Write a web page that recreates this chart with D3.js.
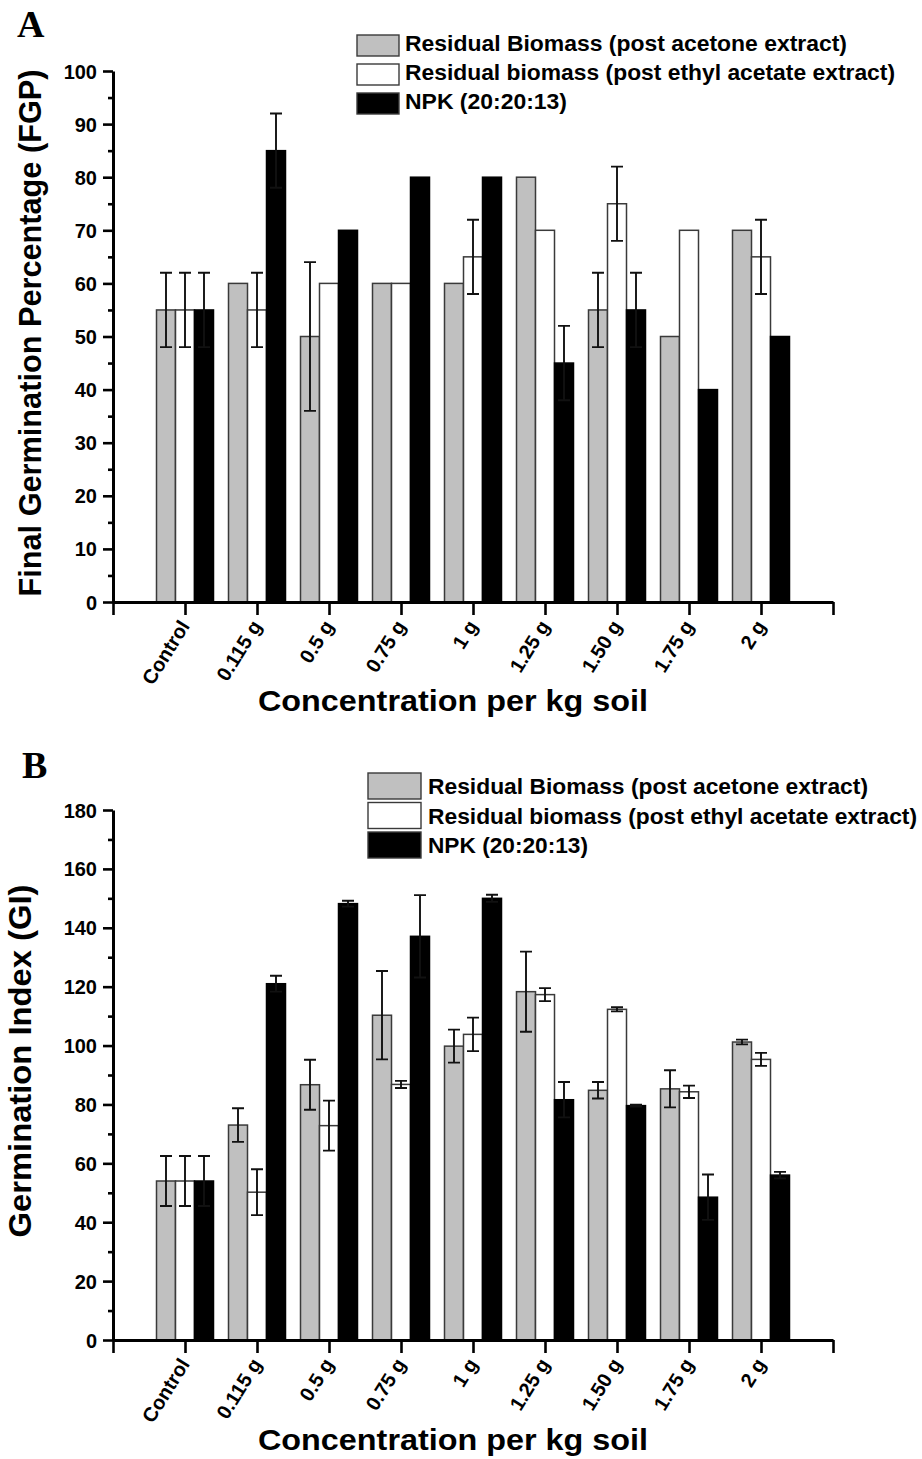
<!DOCTYPE html>
<html>
<head>
<meta charset="utf-8">
<script src="https://cdn.jsdelivr.net/npm/d3@7"></script>
<style>
  html, body { margin: 0; padding: 0; background: #fff; }
  svg { display: block; }
  text { font-family: "Liberation Sans", Arial, sans-serif; font-weight: bold; fill: #000; }
</style>
</head>
<body>
<svg id="fig" width="922" height="1459"></svg>
<script>
// Treatments (concentration per kg soil)
const categories = ["Control", "0.115 g", "0.5 g", "0.75 g", "1 g", "1.25 g", "1.50 g", "1.75 g", "2 g"];

const seriesNames = [
  "Residual Biomass (post acetone extract)",
  "Residual biomass (post ethyl acetate extract)",
  "NPK (20:20:13)"
];

// Panel A: final germination percentage (FGP) with error
const fgpAcetone    = [55, 60, 50, 60, 60, 80, 55, 50, 70];
const fgpAcetoneErr = [7, 0, 14, 0, 0, 0, 7, 0, 0];
const fgpEthyl      = [55, 55, 60, 60, 65, 70, 75, 70, 65];
const fgpEthylErr   = [7, 7, 0, 0, 7, 0, 7, 0, 7];
const fgpNpk        = [55, 85, 70, 80, 80, 45, 55, 40, 50];
const fgpNpkErr     = [7, 7, 0, 0, 0, 7, 7, 0, 0];

// Panel B: germination index (GI) with error
const giAcetone    = [54, 73, 86.7, 110.3, 99.8, 118.3, 84.8, 85.3, 101.2];
const giAcetoneErr = [8.5, 5.7, 8.5, 15, 5.6, 13.6, 2.8, 6.3, 0.8];
const giEthyl      = [54, 50.2, 72.8, 86.8, 103.8, 117.3, 112.3, 84.3, 95.3];
const giEthylErr   = [8.5, 7.8, 8.5, 1.2, 5.7, 2.2, 0.7, 2.1, 2.2];
const giNpk        = [54, 121, 148.2, 137.1, 150, 81.6, 79.6, 48.5, 56];
const giNpkErr     = [8.5, 2.7, 1, 14, 1.2, 6, 0.3, 7.7, 1.1];

// Tick values
const fgpTicks = [0, 10, 20, 30, 40, 50, 60, 70, 80, 90, 100];
const fgpMinor = [5, 15, 25, 35, 45, 55, 65, 75, 85, 95];
const giTicks  = [0, 20, 40, 60, 80, 100, 120, 140, 160, 180];
const giMinor  = [10, 30, 50, 70, 90, 110, 130, 150, 170];

const fills   = ["#c0c0c0", "#ffffff", "#000000"];
const strokes = ["#3a3a3a", "#3a3a3a", "#000000"];

const svg = d3.select("#fig");

function panel(opts) {
  const g = svg.append("g");
  const x = d3.scaleLinear().domain([0, categories.length + 1]).range([113, 833]);
  const y = d3.scaleLinear().domain(opts.yDomain).range([opts.y0, opts.y1]);
  const inner = d3.scaleBand().domain(d3.range(3)).range([-28.5, 28.5]).padding(0);

  const series = opts.values.map((vals, s) => vals.map((v, i) => ({
    s, i, v, e: opts.errors[s][i]
  })));

  // bars
  series.forEach((rows, s) => {
    g.append("g").selectAll("rect").data(rows).join("rect")
      .attr("x", d => x(d.i + 1) + inner(d.s))
      .attr("y", d => y(d.v))
      .attr("width", inner.bandwidth())
      .attr("height", d => y(0) - y(d.v))
      .attr("fill", fills[s])
      .attr("stroke", strokes[s])
      .attr("stroke-width", 1.5);
  });

  // error bars
  const errRows = series.flat().filter(d => d.e > 0);
  const eg = g.append("g").attr("stroke", "#111").attr("stroke-width", 1.9).attr("fill", "none");
  const cx = d => x(d.i + 1) + inner(d.s) + inner.bandwidth() / 2;
  eg.selectAll("path").data(errRows).join("path")
    .attr("d", d => {
      const c = cx(d), t = y(d.v + d.e), b = y(d.v - d.e), w = 6;
      return `M${c},${t}V${b}M${c - w},${t}H${c + w}M${c - w},${b}H${c + w}`;
    });

  // y axis
  const ya = g.append("g").attr("transform", "translate(113,0)")
    .call(d3.axisLeft(y).tickValues(opts.ticks).tickSize(10).tickPadding(6).tickSizeOuter(0));
  g.append("g").attr("transform", "translate(113,0)")
    .call(d3.axisLeft(y).tickValues(opts.minor).tickSize(5).tickFormat("").tickSizeOuter(0))
    .select(".domain").remove();
  ya.selectAll("text").style("font-size", "20px").attr("dy", "0.35em")
    .attr("font-family", "Liberation Sans, Arial, sans-serif").attr("font-weight", "bold");

  // x axis: ticks at every slot, labels at the treatment positions
  const xa = g.append("g").attr("transform", `translate(0,${y(0)})`)
    .call(d3.axisBottom(x).tickValues(d3.range(0, categories.length + 2)).tickSize(13).tickSizeOuter(0)
      .tickFormat(i => (i >= 1 && i <= categories.length) ? categories[i - 1] : ""));
  xa.selectAll("text")
    .style("font-size", "20px")
    .attr("font-family", "Liberation Sans, Arial, sans-serif").attr("font-weight", "bold")
    .attr("text-anchor", "end")
    .attr("dy", null)
    .attr("y", 0)
    .attr("transform", "translate(5,24) rotate(-58)");

  svg.selectAll(".domain").attr("stroke-width", 3).attr("stroke", "#000");
  svg.selectAll(".tick line").attr("stroke-width", 2.6).attr("stroke", "#000");

  // axis titles
  g.append("text")
    .attr("transform", `translate(${opts.yTitleX},${opts.yTitleY}) rotate(-90)`)
    .attr("text-anchor", "middle")
    .style("font-size", "31px")
    .attr("textLength", opts.yTitleLen).attr("lengthAdjust", "spacingAndGlyphs")
    .text(opts.yTitle);
  g.append("text")
    .attr("x", 453).attr("y", opts.xTitleY)
    .attr("text-anchor", "middle")
    .style("font-size", "30px")
    .attr("textLength", 390).attr("lengthAdjust", "spacingAndGlyphs")
    .text("Concentration per kg soil");

  // panel letter
  g.append("text").attr("x", opts.letterX).attr("y", opts.letterY)
    .style("font-family", "Liberation Serif, 'Times New Roman', serif")
    .style("font-size", "38px")
    .text(opts.letter);

  // legend
  const lg = g.append("g");
  seriesNames.forEach((name, s) => {
    lg.append("rect")
      .attr("x", opts.leg.x).attr("y", opts.leg.y + s * opts.leg.pitch)
      .attr("width", opts.leg.w).attr("height", opts.leg.h)
      .attr("fill", fills[s]).attr("stroke", "#3a3a3a").attr("stroke-width", 1.4);
    lg.append("text")
      .attr("x", opts.leg.tx).attr("y", opts.leg.ty + s * opts.leg.pitch)
      .style("font-size", "22px")
      .attr("textLength", opts.leg.lens[s]).attr("lengthAdjust", "spacingAndGlyphs")
      .text(name);
  });
}

panel({
  yDomain: [0, 100], y0: 602, y1: 71,
  values: [fgpAcetone, fgpEthyl, fgpNpk],
  errors: [fgpAcetoneErr, fgpEthylErr, fgpNpkErr],
  ticks: fgpTicks, minor: fgpMinor,
  yTitle: "Final Germination Percentage (FGP)", yTitleX: 41, yTitleY: 333, yTitleLen: 527,
  xTitleY: 711,
  letter: "A", letterX: 17, letterY: 37,
  leg: { x: 357, y: 35, w: 42, h: 21, pitch: 29, tx: 405, ty: 51, lens: [442, 490, 162] }
});

panel({
  yDomain: [0, 180], y0: 1340, y1: 810,
  values: [giAcetone, giEthyl, giNpk],
  errors: [giAcetoneErr, giEthylErr, giNpkErr],
  ticks: giTicks, minor: giMinor,
  yTitle: "Germination Index (GI)", yTitleX: 31, yTitleY: 1061, yTitleLen: 353,
  xTitleY: 1450,
  letter: "B", letterX: 22, letterY: 778,
  leg: { x: 368, y: 773, w: 53, h: 26, pitch: 29.5, tx: 428, ty: 794, lens: [440, 489, 160] }
});
</script>
</body>
</html>
